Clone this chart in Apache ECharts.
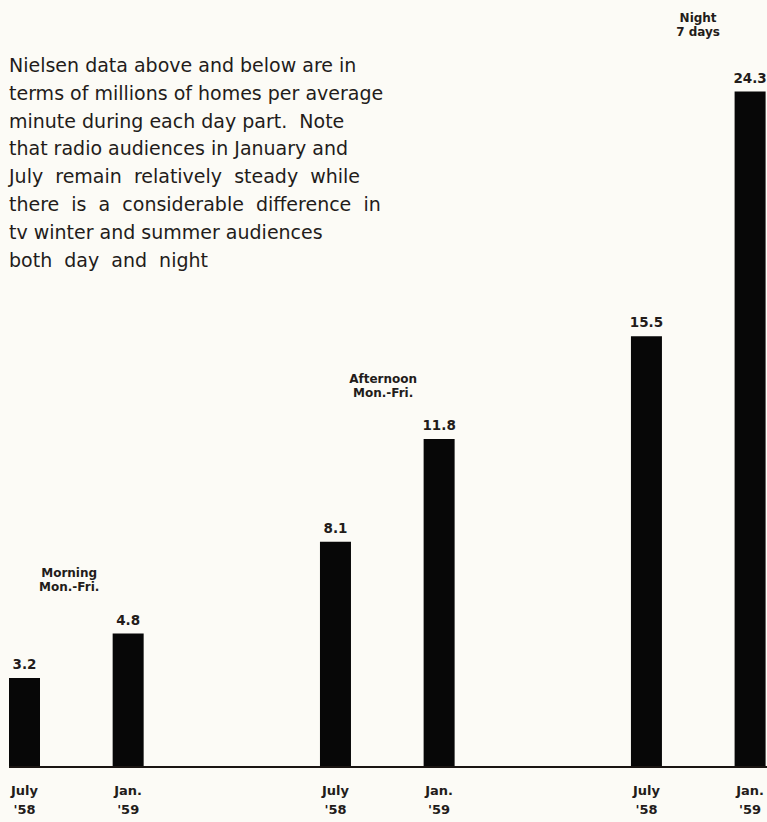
<!DOCTYPE html>
<html>
<head>
<meta charset="utf-8">
<script src="https://cdn.jsdelivr.net/npm/echarts@6/dist/echarts.min.js"></script>
<style>
  html, body { margin: 0; padding: 0; background: #fcfbf6; }
  #chart { width: 767px; height: 822px; }
</style>
</head>
<body>
<div id="chart"></div>
<script>
// Nielsen homes per average minute (millions), by day part
const dayParts = ['Morning\nMon.-Fri.', 'Afternoon\nMon.-Fri.', 'Night\n7 days'];
const periods = ["July\n'58", "Jan.\n'59"];
const julyValues = [3.2, 8.1, 15.5];
const janValues = [4.8, 11.8, 24.3];
const noteLines = [
  'Nielsen data above and below are in',
  'terms of millions of homes per average',
  'minute during each day part.  Note',
  'that radio audiences in January and',
  'July  remain  relatively  steady  while',
  'there  is  a  considerable  difference  in',
  'tv winter and summer audiences',
  'both  day  and  night'
];

const ink = '#231c1a';
const fontFamily = '"DejaVu Sans", Lato, sans-serif';

// Slots along the x axis: July/Jan pairs with an empty slot between day parts
const slots = [];
const barValues = [];
const janSlot = [];
dayParts.forEach((_, g) => {
  slots.push(periods[0]); barValues.push(julyValues[g]);
  slots.push(periods[1]); barValues.push(janValues[g]);
  janSlot.push(slots.length - 1);
  if (g < dayParts.length - 1) { slots.push(''); barValues.push('-'); }
});

// Offset of each day-part heading relative to its January bar top
const headingShift = [[-59, -35], [-56, -34], [-52, -48]];

const chart = echarts.init(document.getElementById('chart'), null, { renderer: 'svg' });

function noteText() {
  return {
    type: 'text',
    left: 9,
    top: 51,
    style: {
      text: noteLines.join('\n'),
      fill: ink,
      font: '19px ' + fontFamily,
      lineHeight: 27.8
    }
  };
}

chart.setOption({
  backgroundColor: '#fcfbf6',
  animation: false,
  grid: { left: 24.5, right: 16.5, top: 86, bottom: 55 },
  xAxis: {
    type: 'category',
    data: slots,
    boundaryGap: false,
    axisLine: { show: false },
    axisTick: { show: false },
    axisLabel: {
      interval: 0,
      margin: 14,
      color: ink,
      fontFamily,
      fontWeight: 'bold',
      fontSize: 13,
      lineHeight: 19
    }
  },
  yAxis: {
    type: 'value',
    min: 0,
    max: 24.5,
    show: false,
    splitLine: { show: false }
  },
  series: [
    {
      type: 'bar',
      data: barValues,
      barWidth: 31,
      itemStyle: { color: '#070707' },
      label: {
        show: true,
        position: 'top',
        distance: 7,
        color: ink,
        fontFamily,
        fontWeight: 'bold',
        fontSize: 13.5
      }
    },
    {
      type: 'scatter',
      symbolSize: 0,
      silent: true,
      itemStyle: { opacity: 1 },
      data: dayParts.map((name, g) => ({
        value: [janSlot[g], janValues[g]],
        name,
        label: { offset: headingShift[g] }
      })),
      label: {
        show: true,
        position: 'top',
        formatter: p => p.name,
        color: ink,
        fontFamily,
        fontWeight: 'bold',
        fontSize: 12,
        lineHeight: 14,
        align: 'center'
      }
    }
  ],
  graphic: [noteText()]
});

// Baseline under the bars, placed on the value axis zero
const zeroY = chart.convertToPixel({ yAxisIndex: 0 }, 0);
chart.setOption({
  graphic: [
    noteText(),
    {
      type: 'line',
      shape: { x1: 9, y1: zeroY, x2: 767, y2: zeroY },
      style: { stroke: '#1a1512', lineWidth: 2 },
      z: 5
    }
  ]
});
</script>
</body>
</html>
